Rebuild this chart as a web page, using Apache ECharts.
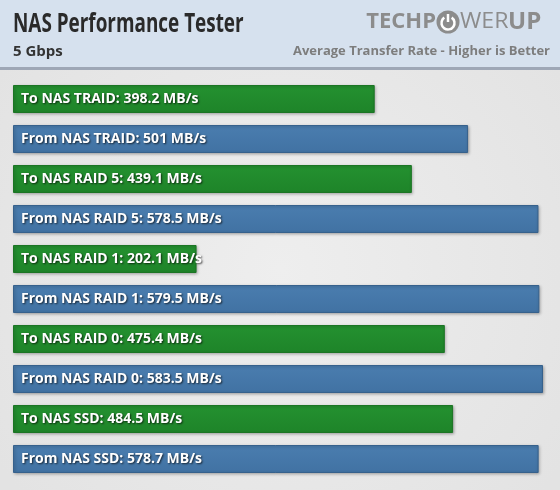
<!DOCTYPE html>
<html><head><meta charset="utf-8">
<script src="https://cdn.jsdelivr.net/npm/echarts@6/dist/echarts.min.js"></script>
<style>html,body{margin:0;padding:0;background:#e8e8e8}#c{width:560px;height:490px}</style>
</head><body><div id="c"></div>
<script>
const categories = ["To NAS TRAID","From NAS TRAID","To NAS RAID 5","From NAS RAID 5","To NAS RAID 1","From NAS RAID 1","To NAS RAID 0","From NAS RAID 0","To NAS SSD","From NAS SSD"];
const values = [398.2, 501, 439.1, 578.5, 202.1, 579.5, 475.4, 583.5, 484.5, 578.7];
const unit = "MB/s";
const title = "NAS Performance Tester";
const subtitle = "5 Gbps";
const note = "Average Transfer Rate - Higher is Better";

const GREEN_B = '#1b7524';
const BLUE_B = '#36618c';

const chart = echarts.init(document.getElementById('c'));
const data = values.map((v, i) => {
  const to = categories[i].startsWith('To');
  return {
    value: v,
    itemStyle: {
      color: new echarts.graphic.LinearGradient(0,0,0,1,[
        {offset:0,color: to ? '#249130' : '#4a7daf'},
        {offset:1,color: to ? '#1e8429' : '#4172a3'}]),
      borderColor: to ? GREEN_B : BLUE_B, borderWidth: 1
    }
  };
});

chart.setOption({
  backgroundColor: new echarts.graphic.RadialGradient(0.5,0.55,0.7,[{offset:0,color:'#eeeeee'},{offset:1,color:'#e3e3e3'}]),
  animation: false,
  grid: {left: 13, right: 2, top: 79, bottom: 11},
  xAxis: {type:'value', min:0, max:600, show:false},
  yAxis: {type:'category', data: categories, inverse:true, show:false},
  series: [{
    type:'bar', data: data, barWidth: 28,
    itemStyle: {shadowColor:'rgba(0,0,0,0.3)', shadowBlur:3, shadowOffsetY:1, shadowOffsetX:1},
    label: {
      show:true, position:'insideLeft', distance: 8,
      formatter: p => `${p.name}: ${p.value} ${unit}`,
      color:'#fff', fontFamily:'"Open Sans", sans-serif', fontWeight:'bold', fontSize:14,
      textShadowColor:'rgba(0,0,0,0.7)', textShadowBlur:2, textShadowOffsetX:1, textShadowOffsetY:1
    }
  }],
  graphic: [
    {type:'rect', shape:{x:0,y:0,width:560,height:67}, style:{fill:'#d6e1ee'}, z:10},
    {type:'rect', shape:{x:0,y:67,width:560,height:3}, style:{fill:'#9ea7b6'}, z:10},
    {type:'text', x:13, y:11, scaleX:0.7, z:11, style:{text:title, fill:'#2a2a2a', font:'bold 27px "Open Sans", sans-serif'}},
    {type:'text', x:13, y:44, z:11, style:{text:subtitle, fill:'#333', font:'bold 15px "Open Sans", sans-serif'}},
    {type:'text', x:550, y:45, z:11, style:{text:note, fill:'#7d7d7d', align:'right', font:'bold 13px "Open Sans", sans-serif'}},
    {type:'text', x:436, y:11, z:11, style:{text:'TECHP', fill:'#8c8c8c', align:'right', font:'bold 22px "Open Sans", sans-serif'}},
    {type:'circle', shape:{cx:448, cy:22, r:11.5}, style:{fill:'#8c8c8c'}, z:11},
    {type:'arc', shape:{cx:448, cy:23, r:6.5, startAngle:-Math.PI/2+0.6, endAngle:-Math.PI/2-0.6+Math.PI*2}, style:{stroke:'#fff', lineWidth:2.5, fill:null}, z:12},
    {type:'line', shape:{x1:448,y1:14,x2:448,y2:22}, style:{stroke:'#fff', lineWidth:2.5}, z:12},
    {type:'text', x:460, y:11, scaleX:1.05, z:11, style:{text:'WER', fill:'#8c8c8c', font:'22px "Open Sans", sans-serif'}},
    {type:'text', x:508, y:10, z:11, style:{text:'UP', fill:'#8c8c8c', font:'bold 24px "Open Sans", sans-serif'}}
  ]
});
</script></body></html>
